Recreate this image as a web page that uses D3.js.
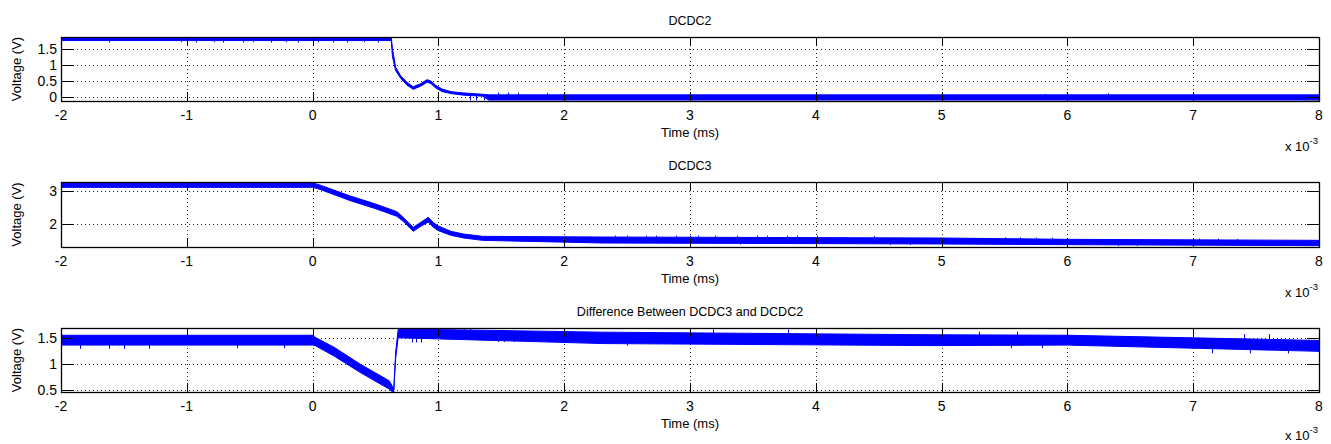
<!DOCTYPE html>
<html>
<head>
<meta charset="utf-8">
<script src="https://cdn.jsdelivr.net/npm/d3@7"></script>
<style>
  body { margin: 0; background: #fff; }
  text { font-family: "Liberation Sans", Arial, Helvetica, sans-serif; fill: #000; }
</style>
</head>
<body>
<svg id="chart" width="1331" height="444"></svg>
<script>
// time axis, in ms (axis shows x 10^-3 s)
var xTicks = [-2, -1, 0, 1, 2, 3, 4, 5, 6, 7, 8];

// DCDC2 - envelope of the noisy trace (lo/hi)
var dcdc2T  = [-2, 0.625, 0.635, 0.66, 0.70, 0.75, 0.80, 0.86, 0.91, 0.94, 0.98, 1.03, 1.10, 1.20, 1.35, 1.40, 4, 8];
var dcdc2Hi = [1.86, 1.86, 1.50, 0.93, 0.66, 0.46, 0.32, 0.42, 0.54, 0.50, 0.36, 0.25, 0.17, 0.13, 0.09, 0.07, 0.07, 0.07];
var dcdc2Lo = [1.75, 1.75, 1.25, 0.82, 0.58, 0.37, 0.24, 0.34, 0.46, 0.42, 0.28, 0.17, 0.11, 0.06, 0.03, -0.09, -0.09, -0.09];
var dcdc2SpikeT = [-1.62, -1.05, -0.93, -0.78, -0.71, -0.55, -0.47, -0.33, -0.21, -0.12, 0.04, 0.16, 0.27, 0.41, 0.52, 1.25, 1.30, 1.36, 1.47, 1.55, 1.63, 1.86, 5.82, 6.32];
var dcdc2SpikeV = [1.69, 1.70, 1.69, 1.70, 1.69, 1.69, 1.70, 1.69, 1.70, 1.69, 1.70, 1.69, 1.69, 1.70, 1.69, -0.10, -0.10, -0.10, 0.14, 0.14, 0.14, 0.13, 0.10, 0.12];
var dcdc2Ticks = [0, 0.5, 1, 1.5];

// DCDC3
var dcdc3T  = [-2, 0.0, 0.05, 0.30, 0.50, 0.67, 0.72, 0.80, 0.86, 0.92, 0.96, 1.00, 1.10, 1.20, 1.35, 2.3, 5, 6, 8];
var dcdc3Hi = [3.23, 3.23, 3.18, 2.84, 2.60, 2.37, 2.20, 1.90, 2.05, 2.20, 2.04, 1.94, 1.78, 1.70, 1.63, 1.61, 1.58, 1.54, 1.51];
var dcdc3Lo = [3.10, 3.10, 3.05, 2.70, 2.46, 2.23, 2.08, 1.78, 1.93, 2.06, 1.90, 1.80, 1.66, 1.58, 1.51, 1.43, 1.40, 1.38, 1.35];
var dcdc3SpikeT = [2.40, 2.50, 2.65, 2.73, 2.89, 3.00, 3.06, 3.20, 3.37, 3.53, 3.61, 3.77, 3.85, 4.01, 4.46, 3.40, 4.59, 4.75, 5.50, 5.62, 5.75, 5.88, 6.40, 6.55, 7.05, 7.20, 7.35];
var dcdc3SpikeV = [1.65, 1.65, 1.65, 1.65, 1.65, 1.65, 1.65, 1.65, 1.65, 1.65, 1.65, 1.65, 1.65, 1.65, 1.64, 1.38, 1.37, 1.37, 1.60, 1.60, 1.59, 1.59, 1.34, 1.34, 1.56, 1.56, 1.55];
var dcdc3Ticks = [2, 3];

// Difference DCDC3 - DCDC2
var diffT  = [-2, 0.0, 0.02, 0.17, 0.38, 0.61, 0.635, 0.645, 0.66, 0.68, 1.0, 2.3, 4.9, 6, 7, 8];
var diffHi = [1.55, 1.55, 1.51, 1.32, 0.99, 0.67, 0.56, 0.50, 1.22, 1.66, 1.66, 1.61, 1.56, 1.55, 1.50, 1.45];
var diffLo = [1.36, 1.36, 1.35, 1.15, 0.83, 0.51, 0.455, 0.455, 1.10, 1.50, 1.48, 1.39, 1.35, 1.36, 1.30, 1.24];
var diffSpikeT = [-1.85, -1.62, -1.50, -1.30, -0.60, -0.23, 0.74, 0.78, 0.93, 1.20, 1.25, 3.18, 3.78, 0.79, 0.82, 0.86, 1.47, 1.52, 1.60, 2.00, 2.50, 5.30, 5.60, 7.40, 7.60, 5.55, 5.80, 7.15, 7.45, 7.75];
var diffSpikeV = [1.29, 1.29, 1.29, 1.29, 1.30, 1.30, 1.69, 1.69, 1.69, 1.69, 1.68, 1.66, 1.66, 1.41, 1.41, 1.41, 1.42, 1.42, 1.42, 1.40, 1.35, 1.62, 1.62, 1.57, 1.57, 1.30, 1.30, 1.20, 1.20, 1.20];
var diffTicks = [0.5, 1, 1.5];

var svg = d3.select("#chart");
var left = 61, right = 1319;

var x = d3.scaleLinear().domain([-2, 8]).range([left, right]);

var panels = [
  { id: "p1", title: "DCDC2", top: 37, bottom: 101, yDom: [-0.12, 1.86], yTicks: dcdc2Ticks,
    t: dcdc2T, hi: dcdc2Hi, lo: dcdc2Lo, sT: dcdc2SpikeT, sV: dcdc2SpikeV },
  { id: "p2", title: "DCDC3", top: 182, bottom: 247, yDom: [1.31, 3.26], yTicks: dcdc3Ticks,
    t: dcdc3T, hi: dcdc3Hi, lo: dcdc3Lo, sT: dcdc3SpikeT, sV: dcdc3SpikeV },
  { id: "p3", title: "Difference Between DCDC3 and DCDC2", top: 328, bottom: 392, yDom: [0.455, 1.69], yTicks: diffTicks,
    t: diffT, hi: diffHi, lo: diffLo, sT: diffSpikeT, sV: diffSpikeV }
];

// band centre at time tt (for the spike base)
function bandMid(p, tt) {
  var i = d3.bisectRight(p.t, tt);
  if (i <= 0) i = 1;
  if (i >= p.t.length) i = p.t.length - 1;
  var t0 = p.t[i-1], t1 = p.t[i];
  var f = (tt - t0) / (t1 - t0);
  var m0 = (p.hi[i-1] + p.lo[i-1]) / 2, m1 = (p.hi[i] + p.lo[i]) / 2;
  return m0 + f * (m1 - m0);
}

panels.forEach(function(p) {
  var y = d3.scaleLinear().domain(p.yDom).range([p.bottom, p.top]);
  var g = svg.append("g").attr("id", p.id);

  g.append("clipPath").attr("id", "clip-" + p.id)
    .append("rect")
    .attr("x", left).attr("y", p.top)
    .attr("width", right - left).attr("height", p.bottom - p.top);

  //grid
  g.append("g").selectAll("line").data(xTicks.slice(1, -1)).enter().append("line")
    .attr("x1", function(d) { return Math.round(x(d)) + 0.5; }).attr("x2", function(d) { return Math.round(x(d)) + 0.5; })
    .attr("y1", p.top).attr("y2", p.bottom)
    .attr("stroke", "#222").attr("stroke-width", 1).attr("stroke-dasharray", "1,3");
  g.append("g").selectAll("line").data(p.yTicks).enter().append("line")
    .attr("x1", left).attr("x2", right)
    .attr("y1", function(d) { return Math.round(y(d)) + 0.5; }).attr("y2", function(d) { return Math.round(y(d)) + 0.5; })
    .attr("stroke", "#222").attr("stroke-width", 1).attr("stroke-dasharray", "1,3");

  // data band
  var idx = d3.range(p.t.length);
  var area = d3.area()
    .x(function(i) { return x(p.t[i]); })
    .y0(function(i) { return y(p.lo[i]); })
    .y1(function(i) { return y(p.hi[i]); });
  var dg = g.append("g").attr("clip-path", "url(#clip-" + p.id + ")");
  dg.append("path")
    .attr("d", area(idx))
    .attr("fill", "#0000ff")
    .attr("stroke", "#0000ff")
    .attr("stroke-width", 1)
    .attr("stroke-linejoin", "round");

  // noise spikes
  dg.selectAll("line.spike").data(d3.range(p.sT.length)).enter().append("line")
    .attr("class", "spike")
    .attr("x1", function(i) { return Math.round(x(p.sT[i])) + 0.5; })
    .attr("x2", function(i) { return Math.round(x(p.sT[i])) + 0.5; })
    .attr("y1", function(i) { return y(bandMid(p, p.sT[i])); })
    .attr("y2", function(i) { return y(p.sV[i]); })
    .attr("stroke", "#0000ff").attr("stroke-width", 1);

  // ticks (inward, all four sides)
  var tk = g.append("g").attr("stroke", "#000").attr("stroke-width", 1);
  xTicks.forEach(function(d) {
    var xx = Math.round(x(d)) + 0.5;
    tk.append("line").attr("x1", xx).attr("x2", xx).attr("y1", p.bottom).attr("y2", p.bottom - 9);
    tk.append("line").attr("x1", xx).attr("x2", xx).attr("y1", p.top).attr("y2", p.top + 9);
  });
  p.yTicks.forEach(function(d) {
    var yy = Math.round(y(d)) + 0.5;
    tk.append("line").attr("x1", left).attr("x2", left + 12).attr("y1", yy).attr("y2", yy);
    tk.append("line").attr("x1", right).attr("x2", right - 12).attr("y1", yy).attr("y2", yy);
  });

  // box
  g.append("rect")
    .attr("x", left + 0.5).attr("y", p.top + 0.5)
    .attr("width", right - left).attr("height", p.bottom - p.top)
    .attr("fill", "none").attr("stroke", "#000").attr("stroke-width", 1.3);

  // tick labels
  g.append("g").selectAll("text").data(xTicks).enter().append("text")
    .attr("x", function(d) { return x(d); })
    .attr("y", p.bottom + 19)
    .attr("text-anchor", "middle")
    .style("font-size", "14px")
    .text(function(d) { return d; });
  g.append("g").selectAll("text").data(p.yTicks).enter().append("text")
    .attr("x", left - 4)
    .attr("y", function(d) { return y(d) + 5; })
    .attr("text-anchor", "end")
    .style("font-size", "14px")
    .text(function(d) { return d; });

  // labels
  g.append("text")
    .attr("x", (left + right) / 2).attr("y", p.top - 12)
    .attr("text-anchor", "middle")
    .style("font-size", "12.5px")
    .text(p.title);
  g.append("text")
    .attr("x", (left + right) / 2).attr("y", p.bottom + 36)
    .attr("text-anchor", "middle")
    .style("font-size", "13px")
    .text("Time (ms)");
  g.append("text")
    .attr("transform", "translate(21," + ((p.top + p.bottom) / 2) + ") rotate(-90)")
    .attr("text-anchor", "middle")
    .style("font-size", "13px")
    .text("Voltage (V)");
  var ex = g.append("text")
    .attr("x", right - 1).attr("y", Math.min(p.bottom + 50, 440))
    .attr("text-anchor", "end")
    .style("font-size", "13px");
  ex.append("tspan").text("x 10");
  ex.append("tspan").attr("dy", -7).style("font-size", "9.5px").text("-3");
});
</script>
</body>
</html>
